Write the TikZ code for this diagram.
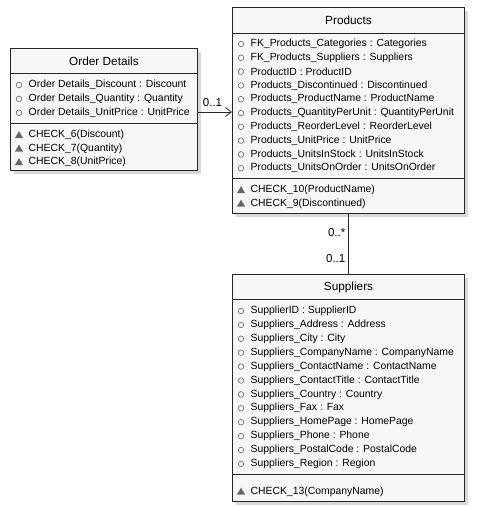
\documentclass[tikz,border=0pt]{standalone}
\usepackage{fontspec}
\setmainfont{Liberation Sans}
\usetikzlibrary{arrows.meta,shadows}
\tikzstyle{classbox}=[rectangle,draw=black!85,line width=1pt,fill=black!3,anchor=north west,inner sep=0pt,
  drop shadow={shadow xshift=3pt,shadow yshift=-3pt,fill=black!30}]
\tikzstyle{classname}=[font=\fontsize{11.8}{14}\selectfont,inner sep=0pt]
\tikzstyle{member}=[font=\fontsize{10.4}{12}\selectfont,anchor=west,inner sep=0pt]
\tikzstyle{fieldicon}=[draw=black!60,line width=0.6pt]
\tikzstyle{methodicon}=[fill=black!60]
\tikzstyle{sep}=[draw=black!85,line width=1pt]
\tikzstyle{assoc}=[draw=black!85,line width=0.8pt]
\tikzstyle{mult}=[font=\fontsize{11.5}{13}\selectfont,inner sep=0pt]

\begin{document}
\begin{tikzpicture}[x=1pt,y=-1pt]
    \useasboundingbox (0,0) rectangle (477,507);
    % The three class boxes
    \node[classbox, minimum width=187pt, minimum height=122pt] (od) at (10,48) {};
    \node[classbox, minimum width=232pt, minimum height=206pt] (prod) at (232,7) {};
    \node[classbox, minimum width=232pt, minimum height=227pt] (sup) at (232,274) {};
    % Names and compartment lines
    \node[classname] (odname) at (od.north |- 0,61) {Order Details};
    \node[classname] (prodname) at (prod.north |- 0,20) {Products};
    \node[classname] (supname) at (sup.north |- 0,287) {Suppliers};
    \foreach \cls/\ya/\yb in {od/73/123, prod/33/178, sup/299/474} {
        \path[sep] (\cls.west |- 0,\ya) -- (\cls.east |- 0,\ya);
        \path[sep] (\cls.west |- 0,\yb) -- (\cls.east |- 0,\yb);
    }
    % Fields
    \foreach \txt [count=\i from 0] in {Order Details\_Discount : Discount,
            Order Details\_Quantity : Quantity, Order Details\_UnitPrice : UnitPrice} {
        \node[member] (od-f\i) at ([xshift=18.5pt]od.west |- 0,{85+13.9*\i}) {\txt};
        \path[fieldicon] ([xshift=-9.5pt]od-f\i.west) circle (2.8pt);
    }
    \foreach \txt [count=\i from 0] in {FK\_Products\_Categories : Categories,
            FK\_Products\_Suppliers : Suppliers, ProductID : ProductID,
            Products\_Discontinued : Discontinued, Products\_ProductName : ProductName,
            Products\_QuantityPerUnit : QuantityPerUnit, Products\_ReorderLevel : ReorderLevel,
            Products\_UnitPrice : UnitPrice, Products\_UnitsInStock : UnitsInStock,
            Products\_UnitsOnOrder : UnitsOnOrder} {
        \node[member] (prod-f\i) at ([xshift=18.5pt]prod.west |- 0,{44+13.8*\i}) {\txt};
        \path[fieldicon] ([xshift=-9.5pt]prod-f\i.west) circle (2.8pt);
    }
    \foreach \txt [count=\i from 0] in {SupplierID : SupplierID,
            Suppliers\_Address : Address, Suppliers\_City : City,
            Suppliers\_CompanyName : CompanyName, Suppliers\_ContactName : ContactName,
            Suppliers\_ContactTitle : ContactTitle, Suppliers\_Country : Country,
            Suppliers\_Fax : Fax, Suppliers\_HomePage : HomePage,
            Suppliers\_Phone : Phone, Suppliers\_PostalCode : PostalCode,
            Suppliers\_Region : Region} {
        \node[member] (sup-f\i) at ([xshift=18.5pt]sup.west |- 0,{311+13.9*\i}) {\txt};
        \path[fieldicon] ([xshift=-9.5pt]sup-f\i.west) circle (2.8pt);
    }
    % Check constraints
    \foreach \cls/\n/\y/\txt in {od/6/135/CHECK\_6(Discount), od/7/148.5/CHECK\_7(Quantity),
            od/8/162/CHECK\_8(UnitPrice), prod/10/190/CHECK\_10(ProductName),
            prod/9/203.5/CHECK\_9(Discontinued), sup/13/491.5/CHECK\_13(CompanyName)} {
        \node[member] (\cls-c\n) at ([xshift=18.5pt]\cls.west |- 0,\y) {\txt};
        \path[methodicon] ([xshift=-13.5pt,yshift=-3pt]\cls-c\n.west) -- ++(8,0)
            -- ++(-4,-6.8) -- cycle;
    }
    % Associations
    \path[assoc,-{Straight Barb[length=6pt,width=9pt]}] (od.east |- 0,112) -- (prod.west |- 0,112);
    \node[mult] (m1) at (212.5,103) {0..1};
    \path[assoc] (prod.south) -- (sup.north);
    \node[mult,anchor=east] (m2) at (345.5,233) {0..*};
    \node[mult,anchor=east] (m3) at (345.5,259) {0..1};
\end{tikzpicture}
\end{document}
